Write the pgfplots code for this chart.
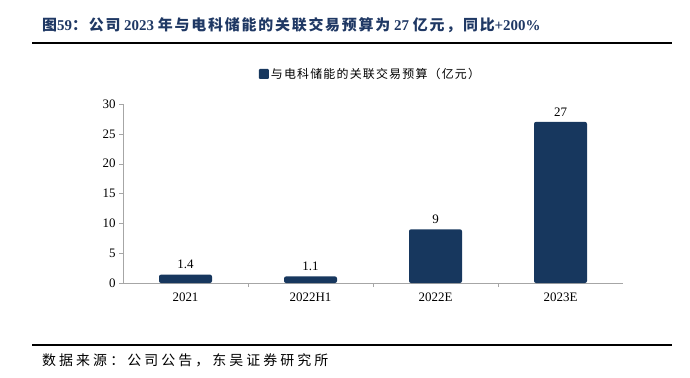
\documentclass[border=0pt]{standalone}
\usepackage{pgfplots}
\pgfplotsset{compat=1.18}
\usepackage{fontspec}
\setmainfont{Liberation Serif}
\newfontfamily\cjk[LetterSpace=12]{Noto Sans CJK SC}
\newfontfamily\cjkleg[LetterSpace=10]{Noto Sans CJK SC}
\newfontfamily\cjksrc[LetterSpace=22]{Noto Sans CJK SC}
\definecolor{navy}{HTML}{17375E}
\definecolor{titlec}{HTML}{1F3864}
\begin{document}
\begin{tikzpicture}[x=1bp,y=1bp]
\useasboundingbox (0,0) rectangle (690,377);
\node[anchor=west, inner sep=0, text=titlec, font=\bfseries\fontsize{15}{15}\selectfont] at (42, 352) {{\cjk 图}59{\cjk ：公司} 2023 {\cjk 年与电科储能的关联交易预算为} 27 {\cjk 亿元，同比}+200\%};
\draw[line width=1.5bp] (32, 334) -- (672, 334);
\draw[line width=1.5bp] (32, 32) -- (672, 32);
\node[anchor=west, inner sep=0, font=\fontsize{14}{14}\selectfont\cjksrc] at (42, 17) {数据来源：公司公告，东吴证券研究所};
\begin{axis}[
  at={(123bp,94bp)}, anchor=south west, scale only axis,
  width=500bp, height=179bp,
  xmin=-0.5, xmax=3.5, ymin=0, ymax=30,
  axis x line*=bottom, axis y line*=left,
  axis line style={draw=gray!70},
  ytick={0,5,...,30},
  xtick={0,1,2,3}, xticklabels={2021,2022H1,2022E,2023E},
  minor xtick={0.5,1.5,2.5},
  major x tick style={draw=none},
  minor x tick style={draw=gray!70},
  minor tick length=4bp,
  major tick length=4bp,
  ytick style={draw=gray!70},
  xtick pos=bottom, ytick pos=left,
  tick align=outside,
  ticklabel style={font=\fontsize{13}{13}\selectfont},
  xticklabel style={yshift=-2bp},
  /pgf/number format/assume math mode=true,
  ybar, bar width=53bp,
  nodes near coords,
  nodes near coords style={font=\fontsize{13}{13}\selectfont, /pgf/number format/assume math mode=true, yshift=2bp},
  legend style={at={(0.495,1.168)}, anchor=center, draw=none, font=\fontsize{12}{12}\selectfont\cjkleg},
  legend image code/.code={\fill[navy, rounded corners=1bp] (0bp,-5bp) rectangle (10bp,5bp);},
]
\addplot[fill=navy, draw=none, rounded corners=2bp] coordinates {(0,1.4) (1,1.1) (2,9) (3,27)};
\addlegendentry{与电科储能的关联交易预算（亿元）}
\end{axis}
\end{tikzpicture}
\end{document}
